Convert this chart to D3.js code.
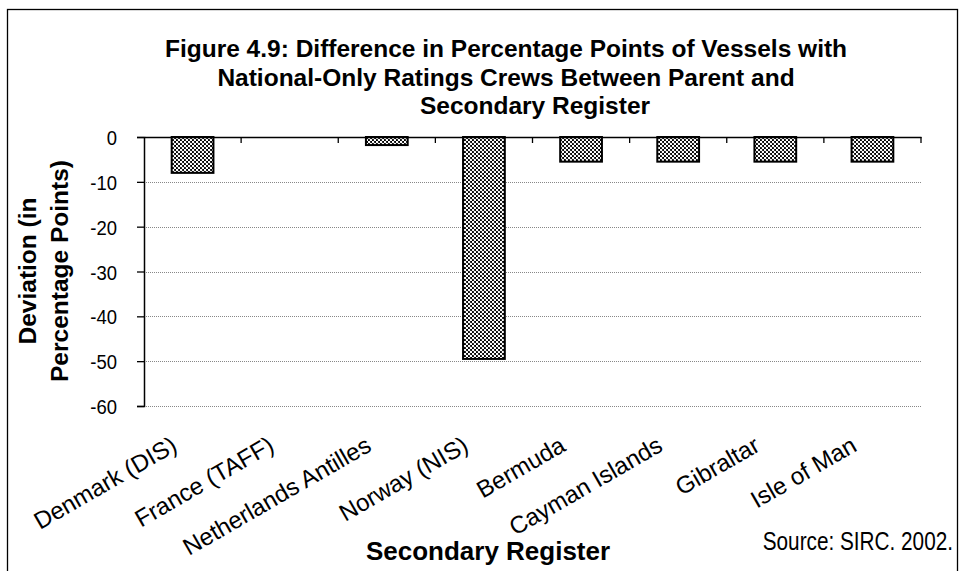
<!DOCTYPE html>
<html>
<head>
<meta charset="utf-8">
<script src="https://cdn.jsdelivr.net/npm/d3@7"></script>
<style>
  body { margin: 0; background: #fff; }
  text { font-family: "Liberation Sans", Arial, sans-serif; fill: #000; }
</style>
</head>
<body>
<div id="chart"></div>
<script>
// data
var registers = ["Denmark (DIS)", "France (TAFF)", "Netherlands Antilles", "Norway (NIS)",
                 "Bermuda", "Cayman Islands", "Gibraltar", "Isle of Man"];
var deviation = [-8, 0, -1.8, -49.5, -5.5, -5.5, -5.5, -5.5];
var yTicks = [0, -10, -20, -30, -40, -50, -60];
var titleLines = ["Figure 4.9: Difference in Percentage Points of Vessels with",
                  "National-Only Ratings Crews Between Parent and",
                  "Secondary Register"];

var W = 965, H = 571;
var margins = { top: 137, right: 44, bottom: 165, left: 144 };
var width = W - margins.left - margins.right;
var height = H - margins.top - margins.bottom;

var svg = d3.select('#chart').append('svg')
  .attr('width', W)
  .attr('height', H);

// pattern for the bars: white dots on black
var defs = svg.append('defs');
var pat = defs.append('pattern')
  .attr('id', 'dots')
  .attr('patternUnits', 'userSpaceOnUse')
  .attr('width', 4).attr('height', 4);
pat.append('rect').attr('width', 4).attr('height', 4).attr('fill', '#000');
pat.append('circle').attr('cx', 1).attr('cy', 1).attr('r', 1.25).attr('fill', '#fff');
pat.append('circle').attr('cx', 3).attr('cy', 3).attr('r', 1.25).attr('fill', '#fff');

// outer frame
svg.append('rect')
  .attr('x', 7.5).attr('y', 9.5)
  .attr('width', 950).attr('height', 580)
  .attr('fill', 'none').attr('stroke', '#000').attr('stroke-width', 1.3);

var x = d3.scaleBand().domain(registers).range([0, width])
  .paddingInner(0.57).paddingOuter(0.285);
var xb = d3.scaleBand().domain(registers).range([0, width]);
var y = d3.scaleLinear().domain([0, -60]).range([0, height]);

var g = svg.append('g')
  .attr('transform', 'translate(' + margins.left + ',' + margins.top + ')');

// dotted gridlines
g.append('g').selectAll('line')
  .data(yTicks.filter(function(d) { return d !== 0; }))
  .enter().append('line')
  .attr('x1', 0).attr('x2', width)
  .attr('y1', function(d) { return Math.round(y(d)) + 0.5; })
  .attr('y2', function(d) { return Math.round(y(d)) + 0.5; })
  .attr('stroke', '#888').attr('stroke-width', 1)
  .attr('stroke-dasharray', '1,1');

// bars
g.append('g').selectAll('rect')
  .data(registers.map(function(r, i) { return { name: r, value: deviation[i] }; })
    .filter(function(d) { return d.value !== 0; }))
  .enter().append('rect')
  .attr('x', function(d) { return x(d.name); })
  .attr('y', y(0))
  .attr('width', x.bandwidth())
  .attr('height', function(d) { return y(d.value) - y(0); })
  .attr('fill', 'url(#dots)')
  .attr('stroke', '#000').attr('stroke-width', 2);

// y axis
var yAxis = d3.axisLeft(y).tickValues(yTicks).tickSize(7).tickPadding(4);
var ya = g.append('g').attr('class', 'y-axis').call(yAxis);
ya.select('.domain').attr('stroke-width', 1.5);
ya.selectAll('.tick line').attr('stroke-width', 1.3);
// slightly condensed tick labels, as in the original
ya.selectAll('.tick text')
  .attr('x', 0).attr('dy', '0.36em')
  .attr('transform', 'translate(-27,0) scale(0.88,1)')
  .style('font-size', '21px')
  .text(function(d) { return String(d); });

// category axis along the zero line, ticks pointing into the plot
var xAxis = d3.axisTop(xb).tickSize(0).tickFormat('');
var xa = g.append('g').attr('class', 'x-axis').call(xAxis);
xa.select('.domain').attr('stroke-width', 1.5);
xa.append('g').selectAll('line')
  .data(registers.map(function(r) { return xb(r) + xb.bandwidth(); }))
  .enter().append('line')
  .attr('x1', function(d) { return d; }).attr('x2', function(d) { return d; })
  .attr('y1', 0).attr('y2', 6)
  .attr('stroke', '#000').attr('stroke-width', 1.3);

// rotated category labels below the plot
g.append('g').selectAll('text')
  .data(registers)
  .enter().append('text')
  .attr('transform', function(d) {
    return 'translate(' + (xb(d) + xb.bandwidth() / 2 - 14) + ',' + (height + 44) + ') rotate(-30)';
  })
  .attr('text-anchor', 'end')
  .style('font-size', '24px')
  .text(function(d) { return d; });

// title
svg.append('g').selectAll('text')
  .data(titleLines)
  .enter().append('text')
  .attr('x', function(d, i) { return i === 2 ? 535 : 506; })
  .attr('y', function(d, i) { return 57 + i * 28.5; })
  .attr('text-anchor', 'middle')
  .style('font-size', '24.5px').style('font-weight', 'bold')
  .text(function(d) { return d; });

// axis titles
var yt = svg.append('text')
  .attr('transform', 'translate(36,271) rotate(-90)')
  .attr('text-anchor', 'middle')
  .style('font-size', '24.5px').style('font-weight', 'bold');
yt.append('tspan').attr('x', 0).attr('dy', 0).text('Deviation (in');
yt.append('tspan').attr('x', 0).attr('dy', 32).text('Percentage Points)');

svg.append('text')
  .attr('x', 488).attr('y', 560)
  .attr('text-anchor', 'middle')
  .style('font-size', '26px').style('font-weight', 'bold')
  .text('Secondary Register');

svg.append('text')
  .attr('transform', 'translate(953,550) scale(0.83,1)')
  .attr('text-anchor', 'end')
  .style('font-size', '25px')
  .text('Source: SIRC. 2002.');
</script>
</body>
</html>
